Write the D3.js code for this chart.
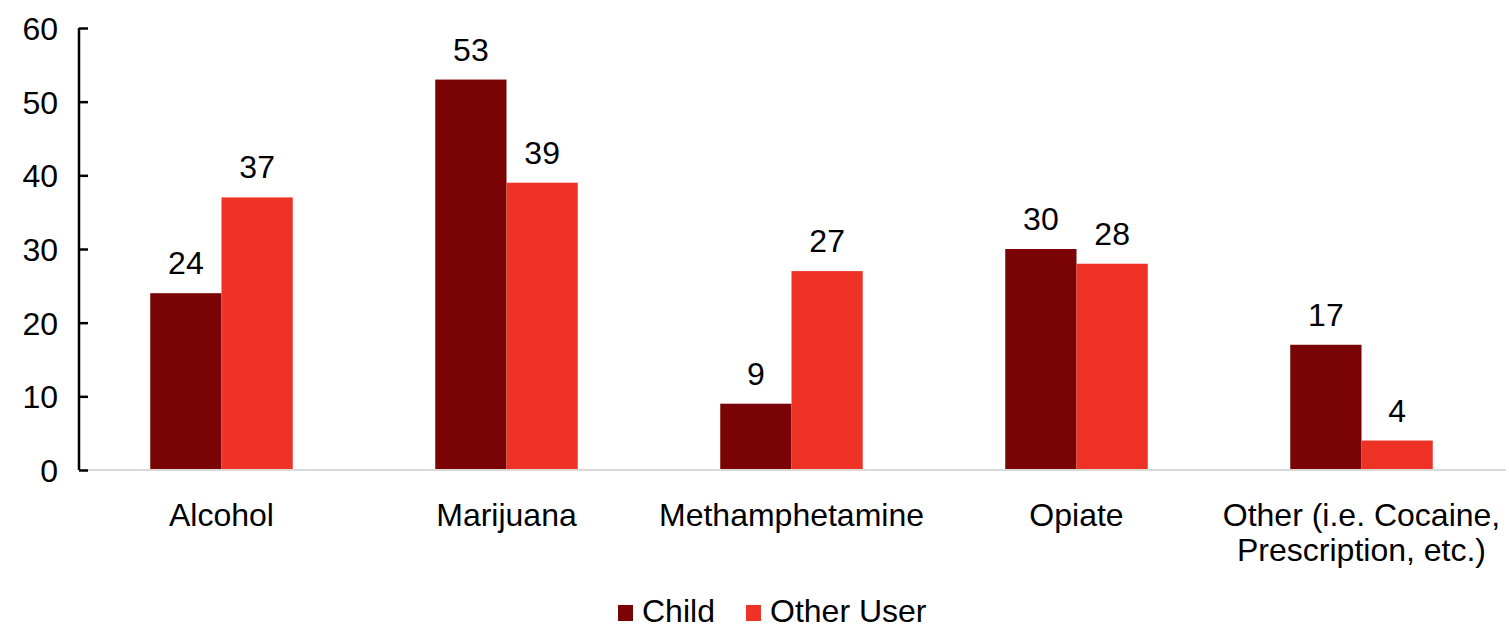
<!DOCTYPE html>
<html><head><meta charset="utf-8">
<script src="https://cdn.jsdelivr.net/npm/d3@7"></script>
<style>body{margin:0;background:#fff;}svg text{font-family:"Liberation Sans",Arial,sans-serif;fill:#000;}</style>
</head><body>
<svg id="c" width="1509" height="630"></svg>
<script>
const categories = [["Alcohol"],["Marijuana"],["Methamphetamine"],["Opiate"],["Other (i.e. Cocaine,","Prescription, etc.)"]];
const seriesNames = ["Child","Other User"];
const childValues = [24,53,9,30,17];
const otherValues = [37,39,27,28,4];
const yTicks = [0,10,20,30,40,50,60];
const colors = ["#790305","#ee3226"];

const svg = d3.select("#c");
const mLeft = 79, mRight = 1504, mTop = 28, mBottom = 470;
const catKeys = categories.map(c => c.join(" "));
const x = d3.scaleBand().domain(catKeys).range([mLeft, mRight]).paddingInner(0.5).paddingOuter(0.25);
const x1 = d3.scaleBand().domain(seriesNames).range([0, x.bandwidth()]);
const y = d3.scaleLinear().domain([0,60]).range([mBottom, mTop]);
const series = [childValues, otherValues];

// bars
seriesNames.forEach((s, si) => {
  const g = svg.append("g");
  g.selectAll("rect").data(series[si]).enter().append("rect")
    .attr("x", (d,i) => x(catKeys[i]) + x1(s))
    .attr("y", d => y(d))
    .attr("width", x1.bandwidth())
    .attr("height", d => y(0) - y(d))
    .attr("fill", colors[si]);
  g.selectAll("text").data(series[si]).enter().append("text")
    .attr("x", (d,i) => x(catKeys[i]) + x1(s) + x1.bandwidth()/2)
    .attr("y", d => y(d) - 19)
    .attr("text-anchor","middle").attr("font-size", 32)
    .text(d => d);
});

// baseline
svg.append("line").attr("x1", mLeft).attr("x2", mRight+2).attr("y1", y(0)).attr("y2", y(0))
  .attr("stroke","#d9d9d9").attr("stroke-width",2);

// y axis
const yAxis = d3.axisLeft(y).tickValues(yTicks).tickSize(-9).tickPadding(21).tickFormat(d3.format("d"));
const ya = svg.append("g").attr("transform",`translate(${mLeft},0)`).call(yAxis);
ya.select(".domain").attr("stroke","#000").attr("stroke-width",2.5).attr("d",`M0,${mTop}V${mBottom}`);
ya.selectAll(".tick line").attr("stroke","#000").attr("stroke-width",2.5);
ya.selectAll(".tick text").attr("font-size",32).attr("font-family","Liberation Sans, Arial, sans-serif").attr("fill","#000").attr("dy","0.36em");

// category labels
categories.forEach((c, i) => {
  const cx = x(catKeys[i]) + x.bandwidth()/2;
  const t = svg.append("text").attr("text-anchor","middle").attr("font-size",32);
  c.forEach((line, li) => t.append("tspan").attr("x", cx).attr("y", 526 + li*35).text(line));
});

// legend
const legendX = [618, 746];
seriesNames.forEach((s, si) => {
  svg.append("rect").attr("x", legendX[si]).attr("y", 605).attr("width",15).attr("height",16).attr("fill",colors[si]);
  svg.append("text").attr("x", legendX[si] + 24).attr("y", 622).attr("font-size",32).text(s);
});
</script>
</body></html>
